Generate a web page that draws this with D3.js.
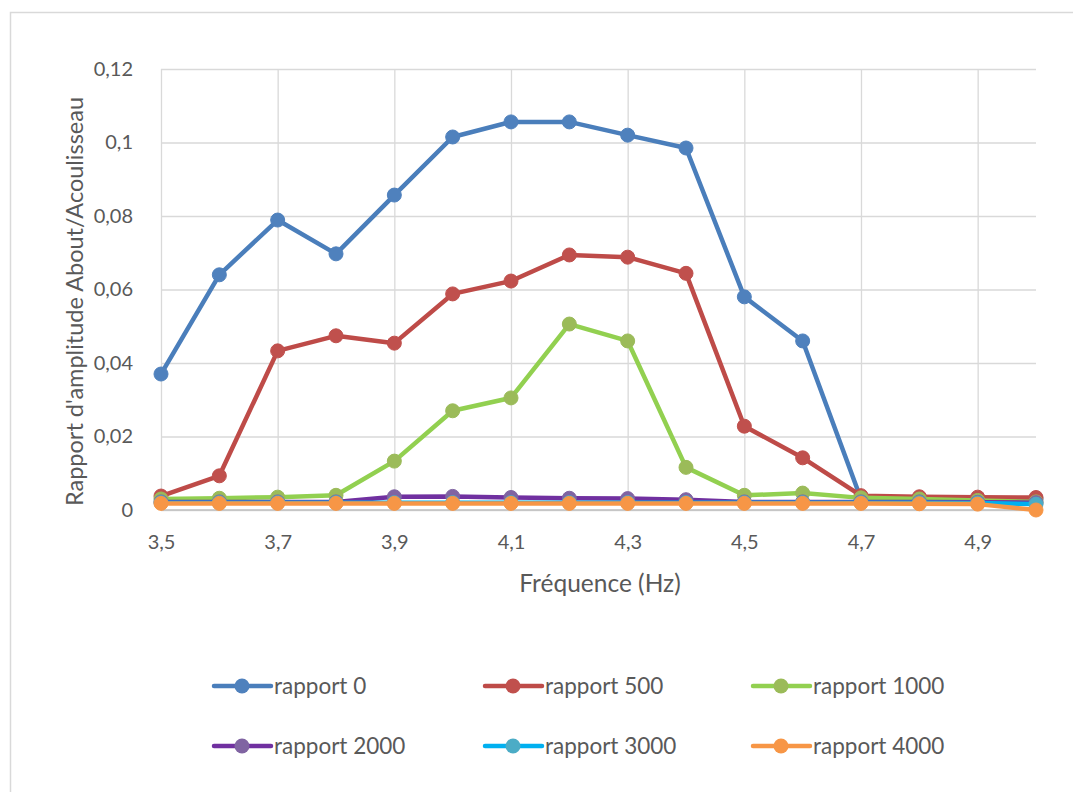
<!DOCTYPE html>
<html>
<head>
<meta charset="utf-8">
<script src="https://cdn.jsdelivr.net/npm/d3@7"></script>
<style>
  html, body { margin: 0; padding: 0; background: #fff; }
  svg { display: block; font-family: Lato, "Noto Sans", sans-serif; }
</style>
</head>
<body>
<div id="chart"></div>
<script>
// Data
const frequencies = [3.5, 3.6, 3.7, 3.8, 3.9, 4.0, 4.1, 4.2, 4.3, 4.4, 4.5, 4.6, 4.7, 4.8, 4.9, 5.0];
const rapport0    = [0.037, 0.064, 0.0789, 0.0697, 0.0857, 0.1015, 0.1056, 0.1056, 0.102, 0.0985, 0.058, 0.046, 0.003, 0.003, 0.003, 0.003];
const rapport500  = [0.0038, 0.0093, 0.0433, 0.0474, 0.0454, 0.0588, 0.0623, 0.0694, 0.0688, 0.0644, 0.0228, 0.0142, 0.0039, 0.0036, 0.0035, 0.0034];
const rapport1000 = [0.003, 0.0032, 0.0035, 0.004, 0.0133, 0.027, 0.0305, 0.0506, 0.046, 0.0116, 0.004, 0.0046, 0.0033, 0.003, 0.0026, 0.0022];
const rapport2000 = [0.0022, 0.0022, 0.0022, 0.0022, 0.0036, 0.0037, 0.0034, 0.0032, 0.0031, 0.0028, 0.0022, 0.0022, 0.0022, 0.0022, 0.0021, 0.002];
const rapport3000 = [0.002, 0.002, 0.002, 0.002, 0.002, 0.002, 0.002, 0.002, 0.002, 0.002, 0.002, 0.002, 0.002, 0.002, 0.0019, 0.0016];
const rapport4000 = [0.0018, 0.0018, 0.0018, 0.0018, 0.0018, 0.0018, 0.0018, 0.0018, 0.0018, 0.0018, 0.0018, 0.0018, 0.0018, 0.0017, 0.0016, 0.0];
const seriesNames = ['rapport 0', 'rapport 500', 'rapport 1000', 'rapport 2000', 'rapport 3000', 'rapport 4000'];
const xTicks = [3.5, 3.7, 3.9, 4.1, 4.3, 4.5, 4.7, 4.9];
const yTicks = [0, 0.02, 0.04, 0.06, 0.08, 0.1, 0.12];

const seriesValues = [rapport0, rapport500, rapport1000, rapport2000, rapport3000, rapport4000];
const lineColors   = ['#4a7ebb', '#be4b48', '#92d050', '#7030a0', '#00b0f0', '#f79646'];
const markerColors = ['#4f81bd', '#c0504d', '#9bbb59', '#8064a2', '#4bacc6', '#f79646'];

const series = seriesNames.map((name, i) => ({
    name,
    line: lineColors[i],
    marker: markerColors[i],
    points: frequencies.map((f, j) => ({ x: f, y: seriesValues[i][j] }))
}));

const width = 1073, height = 792;
const margin = { top: 69, right: 37, bottom: 282, left: 161 };
const innerWidth = width - margin.left - margin.right;
const innerHeight = height - margin.top - margin.bottom;

const svg = d3.select('#chart').append('svg')
    .attr('width', width)
    .attr('height', height);

// Chart border (extends beyond right/bottom edges)
svg.append('rect')
    .attr('x', 10.5).attr('y', 12.5)
    .attr('width', width + 10).attr('height', height + 10)
    .attr('fill', 'none')
    .attr('stroke', '#d9d9d9')
    .attr('stroke-width', 1.5);

const g = svg.append('g').attr('transform', `translate(${margin.left},${margin.top})`);

const x = d3.scaleLinear().domain([3.5, 5.0]).range([0, innerWidth]);
const y = d3.scaleLinear().domain([0, 0.12]).range([innerHeight, 0]);

const fmtComma = d => String(+d.toFixed(3)).replace('.', ',');

// Horizontal gridlines + y labels
g.append('g')
    .call(d3.axisLeft(y).tickValues(yTicks).tickSize(-innerWidth).tickPadding(28).tickFormat(fmtComma))
    .call(a => a.select('.domain').remove())
    .call(a => a.selectAll('line').attr('stroke', '#d9d9d9').attr('stroke-width', 1.3))
    .call(a => a.selectAll('text').attr('fill', '#595959').attr('font-size', 20).attr('font-family', 'Lato, sans-serif'));

// Vertical gridlines + x labels
g.append('g')
    .attr('transform', `translate(0,${innerHeight})`)
    .call(d3.axisBottom(x).tickValues(xTicks).tickSize(-innerHeight).tickPadding(25).tickFormat(fmtComma))
    .call(a => a.select('.domain').remove())
    .call(a => a.selectAll('line').attr('stroke', '#d9d9d9').attr('stroke-width', 1.3))
    .call(a => a.selectAll('text').attr('fill', '#595959').attr('font-size', 20).attr('font-family', 'Lato, sans-serif'));

// Base axis line
g.append('line')
    .attr('x1', 0).attr('x2', innerWidth)
    .attr('y1', y(0)).attr('y2', y(0))
    .attr('stroke', '#bfbfbf').attr('stroke-width', 1.5);

// Series
const line = d3.line().x(d => x(d.x)).y(d => y(d.y));

series.forEach(s => {
    const sg = g.append('g');
    sg.append('path')
        .datum(s.points)
        .attr('d', line)
        .attr('fill', 'none')
        .attr('stroke', s.line)
        .attr('stroke-width', 4.5)
        .attr('stroke-linejoin', 'round')
        .attr('stroke-linecap', 'round');
    sg.selectAll('circle')
        .data(s.points)
        .join('circle')
        .attr('cx', d => x(d.x))
        .attr('cy', d => y(d.y))
        .attr('r', 7)
        .attr('fill', s.marker)
        .attr('stroke', s.marker)
        .attr('stroke-width', 1);
});

// Axis titles
svg.append('text')
    .attr('x', 600)
    .attr('y', 592)
    .attr('text-anchor', 'middle')
    .attr('fill', '#595959')
    .attr('font-size', 24.5)
    .text('Fréquence (Hz)');

svg.append('text')
    .attr('transform', `translate(83,${margin.top + innerHeight / 2 + 12}) rotate(-90)`)
    .attr('text-anchor', 'middle')
    .attr('fill', '#595959')
    .attr('font-size', 23.5)
    .text("Rapport d'amplitude About/Acoulisseau");

// Legend: 3 columns x 2 rows
const legendCols = [214, 485, 753];
const legendRows = [686, 746];
const legend = svg.append('g');
series.forEach((s, i) => {
    const lx = legendCols[i % 3];
    const ly = legendRows[Math.floor(i / 3)];
    const item = legend.append('g').attr('transform', `translate(${lx},${ly})`);
    item.append('line')
        .attr('x1', 0).attr('x2', 57)
        .attr('stroke', s.line).attr('stroke-width', 4.5).attr('stroke-linecap', 'round');
    item.append('circle')
        .attr('cx', 28).attr('r', 7.5)
        .attr('fill', s.marker);
    item.append('text')
        .attr('x', 60).attr('dy', '0.35em')
        .attr('fill', '#595959')
        .attr('font-size', 22.5)
        .text(s.name);
});
</script>
</body>
</html>
